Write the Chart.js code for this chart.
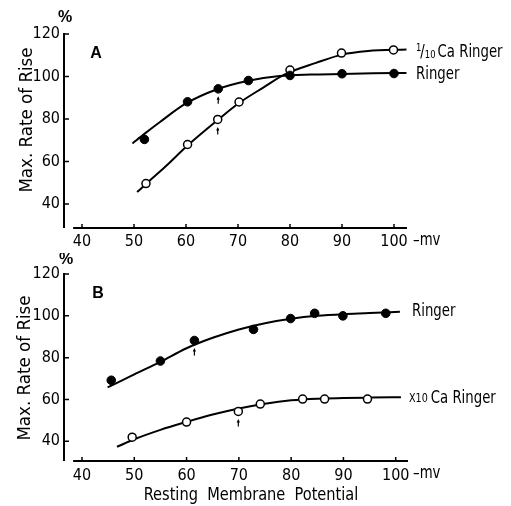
<!DOCTYPE html>
<html>
<head>
<meta charset="utf-8">
<script src="https://cdn.jsdelivr.net/npm/chart.js@4.4.1/dist/chart.umd.min.js"></script>
<style>
html, body { margin: 0; padding: 0; background: #fff; }
#wrap { position: relative; width: 511px; height: 506px; }
canvas { position: absolute; left: 0; }
#panelA { top: 0; }
#panelB { top: 253px; }
</style>
</head>
<body>
<div id="wrap">
  <canvas id="panelA" width="511" height="253" style="width:511px;height:253px"></canvas>
  <canvas id="panelB" width="511" height="253" style="width:511px;height:253px"></canvas>
</div>
<script>
// tick labels (shared by both panels)
var xTicks = [40, 50, 60, 70, 80, 90, 100];
var yTicks = [40, 60, 80, 100, 120];

// Panel A : Ringer vs 1/10 Ca Ringer
var aRingerX = [52, 60.3, 66.2, 72, 80, 90, 100];
var aRingerY = [70.4, 88.1, 94.2, 98.1, 100.5, 101.3, 101.4];
var aLowCaX = [52.3, 60.3, 66.1, 70.2, 80, 89.9, 99.9];
var aLowCaY = [49.6, 68, 79.8, 88, 103, 111, 112.5];
var aRingerFitX = [49.7, 52, 55, 60, 66, 72, 78, 84, 90, 96, 102.4];
var aRingerFitY = [68.5, 73, 78.6, 87.3, 94, 98, 100.2, 100.9, 101.2, 101.5, 101.7];
var aLowCaFitX = [50.6, 52.3, 56, 60.3, 66.1, 70.2, 75, 79, 85, 90, 95, 102.4];
var aLowCaFitY = [45.6, 49.4, 57.5, 67.5, 79.5, 87.5, 95, 101, 106.4, 110.3, 112, 112.7];
var aArrows = [[0, 2], [1, 2]]; // [dataset, point] with a small arrow below

// Panel B : Ringer vs x10 Ca Ringer
var bRingerX = [45.6, 55, 61.5, 72.8, 79.9, 84.5, 89.9, 98.1];
var bRingerY = [69.2, 78.4, 88.2, 93.5, 98.7, 101.2, 100, 101.2];
var bHighCaX = [49.6, 60, 69.9, 74.1, 82.2, 86.4, 94.6];
var bHighCaY = [42, 49.2, 54.3, 57.8, 60.2, 60.2, 60.2];
var bRingerFitX = [44.9, 50, 55, 60, 65, 70, 75, 80, 85, 90, 95, 100.8];
var bRingerFitY = [65.8, 72, 78, 84.5, 89.5, 93.5, 96.5, 98.6, 100, 100.8, 101.3, 102];
var bHighCaFitX = [46.7, 50, 55, 60, 65, 70, 75, 80, 85, 90, 95, 101];
var bHighCaFitY = [37.4, 41, 45.5, 49.3, 52.8, 55.7, 58, 59.6, 60.4, 60.7, 60.9, 61.1];
var bArrows = [[0, 2], [1, 2]];

var NARROW = "'Liberation Sans Narrow', 'DejaVu Sans Condensed', sans-serif";

function pts(xs, ys) {
  var out = [];
  for (var i = 0; i < xs.length; i++) {
    out.push({x: xs[i], y: ys[i]});
  }
  return out;
}

// draw text squeezed horizontally by k, returns drawn width
function txt(c, s, x, y, font, align, k) {
  k = k || 1;
  c.save();
  c.font = font;
  c.textAlign = align || 'left';
  c.textBaseline = 'middle';
  c.translate(x, y);
  c.scale(k, 1);
  c.fillText(s, 0, 0);
  var w = c.measureText(s).width * k;
  c.restore();
  return w;
}

// axes, inward ticks, arrows and labels
function decor(p) {
  return {
    id: 'decor',
    afterDraw: function(chart) {
      var c = chart.ctx, xs = chart.scales.x, ys = chart.scales.y;
      var x0 = xs.getPixelForValue(xs.min);
      var yb = ys.getPixelForValue(ys.min);
      c.save();
      c.strokeStyle = '#000';
      c.fillStyle = '#000';
      c.lineWidth = 2;
      c.beginPath();
      c.moveTo(x0, ys.getPixelForValue(120) - 1);
      c.lineTo(x0, yb);
      c.moveTo(xs.getPixelForValue(p.xAxisStart), yb);
      c.lineTo(xs.getPixelForValue(xs.max), yb);
      c.stroke();
      c.lineWidth = 1.5;
      c.beginPath();
      yTicks.forEach(function(v) {
        var y = ys.getPixelForValue(v);
        c.moveTo(x0, y);
        c.lineTo(x0 + 5, y);
      });
      xTicks.forEach(function(v) {
        var x = xs.getPixelForValue(v);
        c.moveTo(x, yb);
        c.lineTo(x, yb - 4);
      });
      c.stroke();

      // little arrows under marked points
      c.lineWidth = 1.2;
      p.arrows.forEach(function(a) {
        var pt = chart.data.datasets[a[0]].data[a[1]];
        var px = xs.getPixelForValue(pt.x), py = ys.getPixelForValue(pt.y);
        c.beginPath();
        c.moveTo(px, py + 9);
        c.lineTo(px, py + 15);
        c.stroke();
        c.beginPath();
        c.moveTo(px, py + 7.5);
        c.lineTo(px - 1.6, py + 11);
        c.lineTo(px + 1.6, py + 11);
        c.closePath();
        c.fill();
      });

      // texts
      var f18 = '18px ' + NARROW;
      txt(c, '%', p.pct[0], p.pct[1], "bold 16px 'Liberation Sans', sans-serif", 'center');
      txt(c, p.letter, p.letterPos[0], p.letterPos[1], "bold 16px 'Liberation Sans', sans-serif", 'center');
      c.save();
      c.translate(p.yTitle[0], p.yTitle[1]);
      c.rotate(-Math.PI / 2);
      txt(c, 'Max. Rate of Rise', 0, 0, f18, 'center', 1.03);
      c.restore();
      txt(c, '\u2013mv', p.mv[0], p.mv[1], f18, 'left', 0.82);
      p.labels.forEach(function(l) {
        var x = l.x;
        if (l.pre === 'frac') {
          x += txt(c, '1', x, l.y - 4, '11px ' + NARROW, 'left', 0.85);
          x += txt(c, '/', x - 1, l.y, f18, 'left', 0.82) - 1;
          x += txt(c, '10', x, l.y + 3, '11px ' + NARROW, 'left', 0.85) + 2;
        } else if (l.pre) {
          x += txt(c, l.pre, x, l.y + 1, '13px ' + NARROW, 'left', 0.82) + 3;
        }
        txt(c, l.text, x, l.y, f18, 'left', 0.82);
      });
      if (p.xTitle) {
        txt(c, p.xTitle[2], p.xTitle[0], p.xTitle[1], '18px ' + NARROW, 'center', 0.9);
      }
      c.restore();
    }
  };
}

function makePanel(id, p) {
  var tickFont = {family: NARROW, size: 16};
  return new Chart(document.getElementById(id), {
    type: 'scatter',
    data: {
      datasets: [
        {data: pts(p.filledX, p.filledY), pointRadius: 4.3, pointBackgroundColor: '#000',
         pointBorderColor: '#000', pointBorderWidth: 1, order: 0},
        {data: pts(p.openX, p.openY), pointRadius: 4, pointBackgroundColor: '#fff',
         pointBorderColor: '#000', pointBorderWidth: 1.5, order: 0},
        {data: pts(p.filledFitX, p.filledFitY), showLine: true, pointRadius: 0,
         borderColor: '#000', borderWidth: 2, cubicInterpolationMode: 'monotone', order: 1},
        {data: pts(p.openFitX, p.openFitY), showLine: true, pointRadius: 0,
         borderColor: '#000', borderWidth: 2, cubicInterpolationMode: 'monotone', order: 1}
      ]
    },
    options: {
      responsive: false,
      devicePixelRatio: 1,
      animation: false,
      layout: {padding: {left: 0, top: p.top, right: 511 - p.right, bottom: 0}},
      plugins: {legend: {display: false}, tooltip: {enabled: false}},
      scales: {
        x: {
          type: 'linear', min: p.xMin, max: p.xMax,
          afterBuildTicks: function(s) { s.ticks = xTicks.map(function(v) { return {value: v}; }); },
          afterFit: function(s) { s.height = 253 - p.bottom; },
          grid: {display: false, drawTicks: false},
          border: {display: false},
          ticks: {font: tickFont, color: '#000', padding: p.xPad, maxRotation: 0}
        },
        y: {
          min: p.yMin, max: 120,
          afterBuildTicks: function(s) { s.ticks = yTicks.map(function(v) { return {value: v}; }); },
          afterFit: function(s) { s.width = 64; },
          grid: {display: false, drawTicks: false},
          border: {display: false},
          ticks: {font: tickFont, color: '#000', padding: 4}
        }
      }
    },
    plugins: [decor(p)]
  });
}

makePanel('panelA', {
  filledX: aRingerX, filledY: aRingerY, openX: aLowCaX, openY: aLowCaY,
  filledFitX: aRingerFitX, filledFitY: aRingerFitY, openFitX: aLowCaFitX, openFitY: aLowCaFitY,
  arrows: aArrows,
  top: 34, bottom: 228, right: 407, xMin: 36.54, xMax: 102.5, yMin: 28.7, xAxisStart: 38.3, xPad: 4,
  pct: [65, 18], letter: 'A', letterPos: [96, 54], yTitle: [27, 120], mv: [413, 240],
  labels: [{x: 416, y: 52, pre: 'frac', text: 'Ca Ringer'}, {x: 416, y: 74, text: 'Ringer'}]
});

makePanel('panelB', {
  filledX: bRingerX, filledY: bRingerY, openX: bHighCaX, openY: bHighCaY,
  filledFitX: bRingerFitX, filledFitY: bRingerFitY, openFitX: bHighCaFitX, openFitY: bHighCaFitY,
  arrows: bArrows,
  top: 21, bottom: 208, right: 408, xMin: 36.56, xMax: 102.35, yMin: 30.6, xAxisStart: 38.3, xPad: 5,
  pct: [66, 7], letter: 'B', letterPos: [98, 41], yTitle: [25, 115], mv: [413, 220],
  labels: [{x: 412, y: 58, text: 'Ringer'}, {x: 409, y: 145, pre: 'X10', text: 'Ca Ringer'}],
  xTitle: [251, 242, 'Resting  Membrane  Potential']
});
</script>
</body>
</html>
